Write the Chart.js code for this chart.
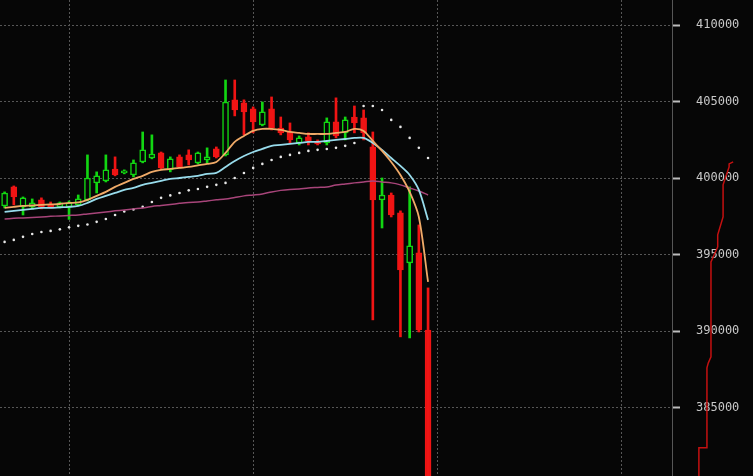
<!DOCTYPE html>
<html>
<head>
<meta charset="utf-8">
<script src="https://cdn.jsdelivr.net/npm/chart.js@4.4.1/dist/chart.umd.min.js"></script>
<style>
  html, body { margin: 0; padding: 0; background: #060606; }
  #wrap { width: 753px; height: 476px; position: relative; }
</style>
</head>
<body>
<div id="wrap"><canvas id="chart"></canvas></div>
<script>
// one slot per bar period, the last 26 are still empty
const periods = Array.from({ length: 73 }, (_, i) => String(i + 1));
const priceTicks = [385000, 390000, 395000, 400000, 405000, 410000];

const opens = [398180, 399430, 398120, 398120, 398580, 398310, 398120, 398120, 398250, 398580,
  399690, 399820, 400600, 400340, 400210, 401060, 401320, 401650, 400540, 401390,
  401520, 401000, 401190, 401910, 401520, 405120, 404920, 404530, 403480, 404530,
  403280, 403020, 402300, 402700, 402430, 402300, 403680, 402960, 404000, 403940,
  402040, 398580, 398900, 397730, 394460, 395110, 390070];
const highs = [399100, 399490, 398770, 398640, 398710, 398440, 398440, 398510, 398900, 401520,
  400410, 401520, 401390, 400540, 401190, 403020, 402830, 401710, 401390, 401520,
  401850, 401710, 401980, 402040, 406420, 406420, 405120, 404660, 404980, 405310,
  404000, 403610, 402760, 402960, 402500, 403940, 405250, 404000, 404720, 404460,
  403020, 400010, 399030, 397860, 399430, 396940, 392820];
const lows = [398050, 398250, 397590, 397990, 397990, 398050, 398050, 397300, 398180, 398510,
  399030, 399750, 400150, 400280, 400080, 401000, 401260, 400600, 400410, 400670,
  400860, 400930, 401000, 401320, 401450, 404070, 402830, 402960, 403420, 403150,
  402830, 402300, 402170, 402170, 402170, 402170, 402630, 402500, 402960, 402500,
  390730, 396740, 397460, 389620, 389550, 389940, 377600];
const closes = [399030, 398770, 398710, 398380, 398120, 398120, 398380, 398380, 398640, 400010,
  400150, 400540, 400210, 400470, 401000, 401850, 401580, 400670, 401260, 400730,
  401190, 401650, 401390, 401390, 404980, 404460, 404330, 403680, 404330, 403280,
  402960, 402500, 402630, 402430, 402240, 403680, 402760, 403810, 403610, 402960,
  398580, 398900, 397590, 394000, 395570, 390070, 378900];

const maFast = [398050, 398120, 398180, 398210, 398250, 398280, 398310, 398380, 398410, 398580,
  398840, 399100, 399430, 399690, 399950, 400150, 400410, 400540, 400600, 400670,
  400730, 400830, 400930, 401060, 401650, 402370, 402760, 403090, 403220, 403220,
  403150, 403020, 402960, 402890, 402890, 402890, 402960, 403020, 403220, 403090,
  402430, 401780, 401060, 400210, 399100, 397460, 393210];
const maMid = [397790, 397860, 397920, 397990, 398050, 398050, 398090, 398120, 398180, 398380,
  398640, 398840, 399030, 399230, 399360, 399560, 399690, 399820, 399950, 400010,
  400080, 400150, 400280, 400340, 400730, 401120, 401450, 401710, 401910, 402110,
  402170, 402240, 402300, 402370, 402370, 402430, 402500, 402560, 402630, 402630,
  402300, 401850, 401320, 400800, 400210, 399230, 397270];
const maSlow = [397330, 397370, 397400, 397430, 397460, 397500, 397530, 397560, 397590, 397660,
  397720, 397790, 397860, 397920, 397990, 398050, 398150, 398210, 398280, 398350,
  398410, 398440, 398510, 398580, 398640, 398740, 398840, 398900, 398970, 399100,
  399200, 399260, 399290, 399360, 399390, 399420, 399550, 399620, 399690, 399750,
  399820, 399750, 399690, 399560, 399360, 399160, 398900];
const sar = [395830, 395960, 396160, 396350, 396480, 396550, 396650, 396780, 396880, 396970,
  397140, 397330, 397590, 397820, 397950, 398120, 398440, 398710, 398870, 399030,
  399200, 399290, 399430, 399560, 399690, 400010, 400340, 400670, 400930, 401190,
  401390, 401520, 401650, 401780, 401850, 401910, 401980, 402110, 402300, 404720,
  404720, 404460, 403810, 403350, 402630, 401980, 401320];

// side profile drawn right of the price axis
const depthVol = [1091, 1085, 1085, 1076, 1076, 1068, 1068, 1058, 1058, 1054, 1052, 1052, 1040, 1040];
const depthPrice = [401060, 400930, 400730, 399560, 397460, 396290, 395500, 394520, 388310, 387915, 387590, 382360, 382360, 377000];

const UP = '#12d612';
const DOWN = '#f01414';
const GRID = '#565656';

const isUp = opens.map((o, i) => closes[i] >= o);
const bodies = opens.map((o, i) => [o, closes[i]]);
const wicks = lows.map((l, i) => [l, highs[i]]);

new Chart(document.getElementById('chart'), {
  type: 'bar',
  data: {
    labels: periods,
    datasets: [
      {
        type: 'line', data: maFast, borderColor: '#f0aa68', borderWidth: 1.8,
        pointRadius: 0, tension: 0.3, order: 1
      },
      {
        type: 'line', data: maMid, borderColor: '#98dcec', borderWidth: 1.8,
        pointRadius: 0, tension: 0.3, order: 2
      },
      {
        type: 'line', data: maSlow, borderColor: '#a8457a', borderWidth: 1.5,
        pointRadius: 0, tension: 0.3, order: 3
      },
      {
        type: 'line', data: sar, showLine: false, pointRadius: 1.3,
        pointBackgroundColor: '#e8e8e8', pointBorderWidth: 0, order: 4
      },
      {
        type: 'line', xAxisID: 'xv', clip: false,
        data: depthVol.map((v, i) => ({ x: v, y: depthPrice[i] })),
        borderColor: '#c41010', borderWidth: 1.5, pointRadius: 0, order: 5
      },
      {
        data: bodies, grouped: false, barThickness: 6, order: 6,
        backgroundColor: isUp.map(u => u ? '#060606' : DOWN),
        borderColor: isUp.map(u => u ? UP : DOWN),
        borderWidth: 1.5, borderSkipped: false
      },
      {
        data: wicks, grouped: false, barThickness: 2, order: 7,
        backgroundColor: isUp.map(u => u ? UP : DOWN), borderWidth: 0
      }
    ]
  },
  options: {
    responsive: true,
    maintainAspectRatio: false,
    animation: false,
    layout: { padding: 0, autoPadding: false },
    plugins: { legend: { display: false }, tooltip: { enabled: false } },
    scales: {
      x: {
        grid: {
          offset: false,
          drawTicks: false,
          color: ctx => (ctx.index % 20 === 7 ? GRID : 'transparent'),
          lineWidth: 1
        },
        border: { display: false, dash: [2, 2] },
        ticks: { display: false },
        afterFit: s => { s.height = 0; s.paddingLeft = 0; s.paddingRight = 0; }
      },
      xv: { type: 'linear', display: false, offset: false, min: 0, max: 1000 },
      y: {
        position: 'right',
        min: 380520,
        max: 411650,
        afterBuildTicks: s => { s.ticks = priceTicks.map(v => ({ value: v })); },
        grid: {
          color: GRID,
          tickLength: 8,
          tickColor: '#bdbdbd',
          tickWidth: 2,
          tickBorderDash: []
        },
        border: { color: GRID, dash: [2, 2] },
        ticks: {
          padding: 16,
          color: '#c8c8c8',
          font: { family: 'DejaVu Sans Mono', size: 12 },
          callback: v => String(v)
        },
        afterFit: s => { s.width = 81; s.paddingTop = 0; s.paddingBottom = 0; }
      }
    }
  }
});
</script>
</body>
</html>
